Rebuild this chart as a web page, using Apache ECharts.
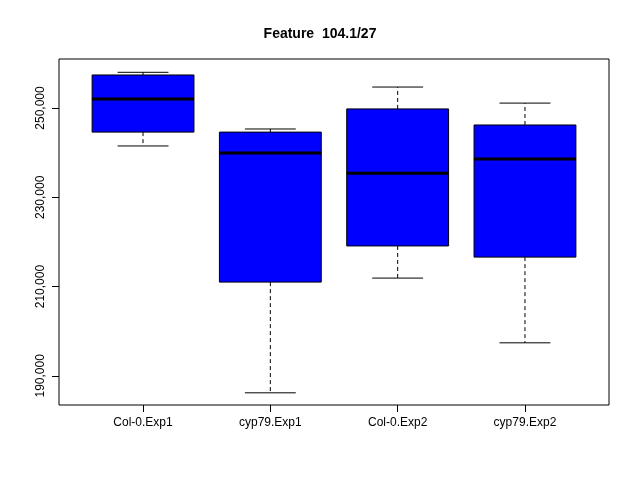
<!DOCTYPE html>
<html><head><meta charset="utf-8">
<script src="https://cdn.jsdelivr.net/npm/echarts@6/dist/echarts.min.js"></script>
<style>html,body{margin:0;background:#fff}#c{width:640px;height:480px}</style>
</head><body><div id="c"></div>
<script>
var categories = ['Col-0.Exp1', 'cyp79.Exp1', 'Col-0.Exp2', 'cyp79.Exp2'];
// [low whisker, Q1, median, Q3, high whisker]
var boxData = [
  [241500, 244600, 252000, 257400, 258000],
  [186200, 211000, 239900, 244600, 245300],
  [211900, 219100, 235400, 249800, 254700],
  [197400, 216600, 238600, 246200, 251100]
];
var yTicks = [190000, 210000, 230000, 250000];

var chart = echarts.init(document.getElementById('c'));
chart.setOption({
  animation: false,
  title: { text: 'Feature  104.1/27', left: 'center', top: 22,
    textStyle: { fontFamily: 'Liberation Sans', fontSize: 14, fontWeight: 'bold', color: '#000' } },
  grid: { left: 59, right: 31, top: 59, bottom: 75, show: true, borderColor: '#000', borderWidth: 1 },
  xAxis: {
    type: 'value', min: 0.34, max: 4.66,
    axisLine: { show: false }, splitLine: { show: false },
    axisTick: { show: true, length: 7, customValues: [1, 2, 3, 4], lineStyle: { color: '#000' } },
    axisLabel: { customValues: [1, 2, 3, 4], margin: 12, color: '#000', fontFamily: 'Liberation Sans', fontSize: 12,
      formatter: function (v) { return categories[Math.round(v) - 1]; } }
  },
  yAxis: {
    type: 'value', min: 183470, max: 260980,
    axisLine: { show: false }, splitLine: { show: false },
    axisTick: { show: true, length: 7, customValues: yTicks, lineStyle: { color: '#000' } },
    axisLabel: { customValues: yTicks, rotate: 90, margin: 12, color: '#000', fontFamily: 'Liberation Sans', fontSize: 12 }
  },
  series: [{
    type: 'custom',
    data: boxData.map(function (d, i) { return [i + 1].concat(d); }),
    renderItem: function (params, api) {
      var x = api.value(0);
      var p = function (xx, v) { return api.coord([xx, v]); };
      var lo = api.value(1), q1 = api.value(2), med = api.value(3), q3 = api.value(4), hi = api.value(5);
      var dash = { stroke: '#000', lineWidth: 1, lineDash: [4, 3] };
      var solid = { stroke: '#000', lineWidth: 1 };
      var a = p(x - 0.4, q3), b = p(x + 0.4, q1);
      return { type: 'group', children: [
        { type: 'line', shape: { x1: p(x, q3)[0], y1: p(x, q3)[1], x2: p(x, hi)[0], y2: p(x, hi)[1] }, style: dash },
        { type: 'line', shape: { x1: p(x, q1)[0], y1: p(x, q1)[1], x2: p(x, lo)[0], y2: p(x, lo)[1] }, style: dash },
        { type: 'line', shape: { x1: p(x - 0.2, hi)[0], y1: p(x, hi)[1], x2: p(x + 0.2, hi)[0], y2: p(x, hi)[1] }, style: solid },
        { type: 'line', shape: { x1: p(x - 0.2, lo)[0], y1: p(x, lo)[1], x2: p(x + 0.2, lo)[0], y2: p(x, lo)[1] }, style: solid },
        { type: 'rect', shape: { x: a[0], y: a[1], width: b[0] - a[0], height: b[1] - a[1] }, style: { fill: '#0000ff', stroke: '#000', lineWidth: 1 } },
        { type: 'line', shape: { x1: p(x - 0.4, med)[0], y1: p(x, med)[1], x2: p(x + 0.4, med)[0], y2: p(x, med)[1] }, style: { stroke: '#000', lineWidth: 3 } }
      ] };
    }
  }]
});
</script></body></html>
